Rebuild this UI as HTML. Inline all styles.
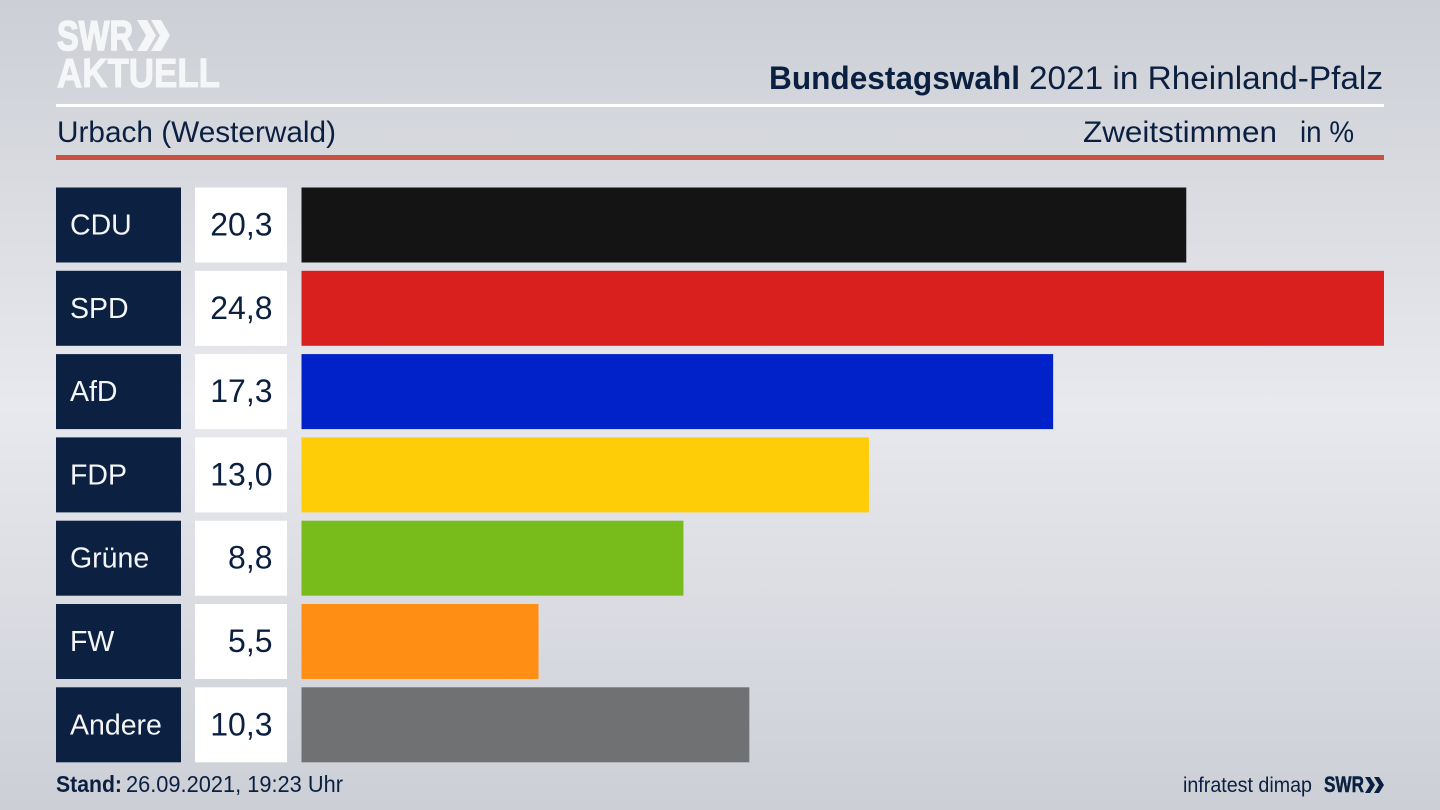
<!DOCTYPE html>
<html lang="de">
<head>
<meta charset="utf-8">
<title>Bundestagswahl 2021 in Rheinland-Pfalz</title>
<style>
html,body{margin:0;padding:0;width:1440px;height:810px;overflow:hidden;background:#dcdee3}
svg{display:block;font-family:"Liberation Sans",sans-serif}
</style>
</head>
<body>
<svg id="chart" width="1440" height="810" viewBox="0 0 1440 810" xmlns="http://www.w3.org/2000/svg">
  <defs>
    <linearGradient id="bg" x1="0" y1="0" x2="0" y2="1">
      <stop offset="0" stop-color="#cccfd5"/>
      <stop offset="0.5" stop-color="#e8e9ee"/>
      <stop offset="1" stop-color="#cccfd6"/>
    </linearGradient>
  </defs>
  <rect width="1440" height="810" fill="url(#bg)"/>

  <g fill="#f5f6f8" stroke="#f5f6f8">
    <text x="57" y="50" font-size="42" font-weight="700" stroke-width="1.6" textLength="76" lengthAdjust="spacingAndGlyphs">SWR</text>
    <polygon stroke="none" points="137,20 147,20 156,35.5 147,51 137,51 146,35.5"/>
    <polygon stroke="none" points="151,20 161,20 170,35.5 161,51 151,51 160,35.5"/>
    <text x="57" y="87" font-size="41" font-weight="700" stroke-width="1" textLength="163" lengthAdjust="spacingAndGlyphs">AKTUELL</text>
  </g>

  <text x="769" y="89" font-size="32" fill="#0b2040" font-weight="700" textLength="251" lengthAdjust="spacingAndGlyphs">Bundestagswahl</text>
  <text x="1029" y="89" font-size="32" fill="#0b2040" textLength="354" lengthAdjust="spacingAndGlyphs">2021 in Rheinland-Pfalz</text>
  <rect x="56" y="104" width="1328" height="3" fill="#ffffff"/>

  <text x="57" y="142" font-size="30" fill="#0b2040" textLength="279" lengthAdjust="spacingAndGlyphs">Urbach (Westerwald)</text>
  <text x="1083" y="142" font-size="30" fill="#0b2040" textLength="194" lengthAdjust="spacingAndGlyphs">Zweitstimmen</text>
  <text x="1300" y="142" font-size="30" fill="#0b2040" textLength="54" lengthAdjust="spacingAndGlyphs">in %</text>
  <rect x="56" y="155" width="1328" height="5" fill="#c8523f"/>

  <g id="rows"></g>

  <text x="56" y="792" font-size="23" font-weight="700" fill="#0b2040" textLength="66" lengthAdjust="spacingAndGlyphs">Stand:</text>
  <text x="126" y="792" font-size="23" fill="#0b2040" textLength="217" lengthAdjust="spacingAndGlyphs">26.09.2021, 19:23 Uhr</text>
  <text x="1183" y="792" font-size="21" fill="#0b2040" textLength="129" lengthAdjust="spacingAndGlyphs">infratest dimap</text>
  <g fill="#0b2040">
    <text x="1324" y="792" font-size="22" font-weight="700" stroke="#0b2040" stroke-width="0.5" textLength="40" lengthAdjust="spacingAndGlyphs">SWR</text>
    <polygon points="1365,777 1370,777 1375,785 1370,793 1365,793 1370,785"/>
    <polygon points="1374,777 1379,777 1384,785 1379,793 1374,793 1379,785"/>
  </g>
</svg>
<script>
const parties = ["CDU", "SPD", "AfD", "FDP", "Grüne", "FW", "Andere"];
const barValues = [20.27, 24.8, 17.22, 13.0, 8.75, 5.43, 10.26];
const printedValues = ["20,3", "24,8", "17,3", "13,0", "8,8", "5,5", "10,3"];
const barColors = ["#141414", "#d9201f", "#0022c8", "#ffcc08", "#78bc1b", "#ff8e14", "#707173"];

const maxValue = 24.8;
const barLeft = 301.5;
const barMaxWidth = 1082.5;
const rowTop = 187.5;
const rowStep = 83.3;
const rowHeight = 75;
const NS = "http://www.w3.org/2000/svg";
const rowsGroup = document.getElementById("rows");

function xScale(v) { return v / maxValue * barMaxWidth; }
function yScale(i) { return rowTop + i * rowStep; }
function make(tag, attrs, parent) {
  const el = document.createElementNS(NS, tag);
  for (const k in attrs) el.setAttribute(k, attrs[k]);
  parent.appendChild(el);
  return el;
}

parties.forEach(function (party, i) {
  const y = yScale(i);
  const slug = party.toLowerCase().replace("ü", "ue");

  const labelBox = make("rect", { x: 56, y: y, width: 125, height: rowHeight, fill: "#0c2142" }, rowsGroup);
  
  

  const labelText = make("text", { x: 70, y: y + 47, "font-size": 28.5, fill: "#f4f5f7" }, rowsGroup);
  
  
  labelText.textContent = party;

  const valueBox = make("rect", { x: 195, y: y, width: 92, height: rowHeight, fill: "#ffffff" }, rowsGroup);
  
  

  const valueText = make("text", { x: 272.5, y: y + 48, "font-size": 32, fill: "#0b2040", "text-anchor": "end" }, rowsGroup);
  
  
  valueText.textContent = printedValues[i];

  const bar = make("rect", { x: barLeft, y: y, width: xScale(barValues[i]), height: rowHeight, fill: barColors[i] }, rowsGroup);
  
  
});
</script>
</body>
</html>
